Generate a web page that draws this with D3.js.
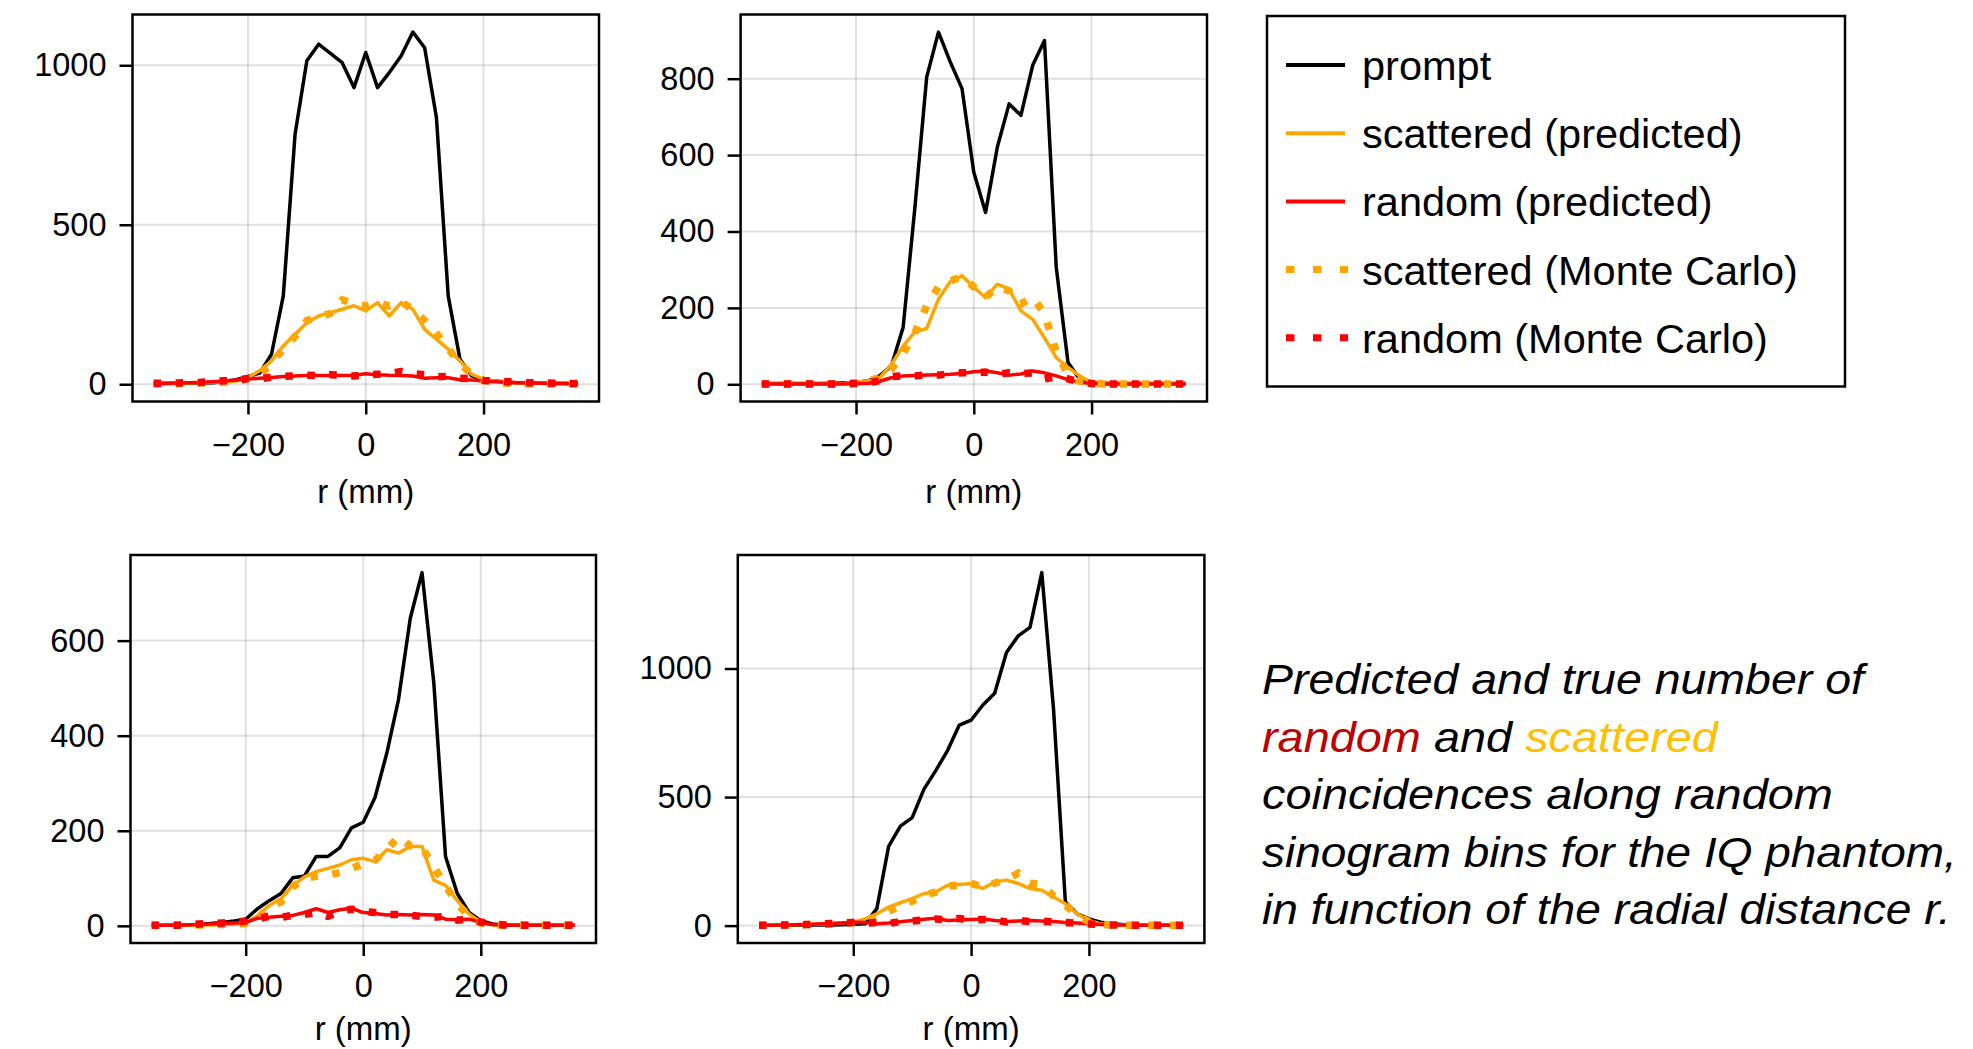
<!DOCTYPE html>
<html>
<head>
<meta charset="utf-8">
<script src="https://cdn.jsdelivr.net/npm/d3@7"></script>
<style>
  body { margin: 0; background: #fff; }
  text { font-family: "Liberation Sans", Arial, sans-serif; fill: #000; }
</style>
</head>
<body>
<svg id="fig" width="1973" height="1049"></svg>
<script>
// radial positions (mm), shared by every panel
const rValues = [-360,-340,-320,-300,-280,-260,-240,-220,-200,-180,-160,-140,-120,-100,-80,-60,-40,-20,0,
                 20,40,60,80,100,120,140,160,180,200,220,240,260,280,300,320,340,360];
const xTicks = [-200, 0, 200];

// top left
const promptA   = [2,2,3,3,4,5, 8,14,24,35,94,277, 784,1014,1066,1037,1008,930, 1040,930,977,1029,1104,1055, 836,277,78,26,13,10, 6,4,3,3,2,2,2];
const scatPredA = [2,3,3,4,5,6, 8,10,21,42,73,120, 157,193,214,225,235,246, 230,256,214,256,235,172, 141,110,73,31,16,10, 6,4,3,3,2,2,2];
const scatMCA   = [1,1,2,3,4,5, 7,9,18,30,65,110, 150,200,210,222,265,252, 245,256,245,258,235,200, 160,112,65,30,12,6, 3,2,1,1,1,1,1];
const randPredA = [2,3,4,5,6,8, 10,13,16,19,21,24, 26,27,27,27,27,28, 33,30,28,27,26,19, 20,20,14,13,10,8, 6,5,4,3,3,2,2];
const randMCA   = [3,3,4,5,6,8, 11,12,18,17,22,25, 26,28,27,30,28,26, 30,31,32,40,33,30, 23,25,19,18,12,10, 8,7,5,4,3,2,2];
const yTicksA = [0, 500, 1000];

// top right
const promptB   = [2,2,2,2,2,2, 3,4,5,9,22,48, 149,463,804,922,844,774, 555,450,621,734,704,835, 900,306,57,13,4,3, 2,2,2,2,2,2,2];
const scatPredB = [1,1,1,1,1,1, 2,3,5,9,17,52, 100,137,146,223,269,284, 254,227,262,249,192,170, 122,70,44,22,4,2, 1,1,1,1,1,1,1];
const scatMCB   = [1,1,1,1,1,1, 1,2,4,8,18,40, 80,135,205,255,270,282, 255,228,255,245,210,228, 185,85,25,8,3,1, 1,1,1,1,1,1,1];
const randPredB = [1,1,1,1,1,1, 1,1,2,2,8,17, 22,23,24,25,26,28, 33,35,30,24,27,35, 30,22,12,5,2,1, 1,1,1,1,1,1,1];
const randMCB   = [1,1,1,1,1,1, 1,1,2,3,10,20, 22,22,25,24,28,30, 30,32,26,30,28,30, 14,20,14,6,2,1, 1,1,1,1,1,1,1];
const yTicksB = [0, 200, 400, 600, 800];

// bottom left
const promptC   = [1,1,1,2,3,5, 7,10,14,36,53,68, 101,105,146,146,164,206, 218,270,363,476,647,743, 512,146,68,28,11,4, 2,1,1,1,1,1,1];
const scatPredC = [1,1,1,1,2,2, 3,4,7,21,43,57, 85,103,114,121,128,139, 142,135,160,153,167,167, 96,85,53,25,7,2, 1,1,1,1,1,1,1];
const scatMCC   = [1,1,1,1,2,2, 3,4,5,15,40,50, 82,100,104,107,112,121, 130,138,160,188,168,165, 124,85,46,20,6,2, 1,1,1,1,1,1,1];
const randPredC = [1,1,1,2,3,4, 5,6,7,16,18,20, 22,28,36,28,34,37, 28,26,23,24,23,24, 23,14,13,14,7,3, 1,1,1,1,1,1,1];
const randMCC   = [1,1,1,2,4,5, 6,7,10,15,20,18, 22,24,28,20,30,35, 30,28,24,24,22,20, 18,20,12,14,8,4, 2,1,1,1,1,1,1];
const yTicksC = [0, 200, 400, 600];

// bottom right
const promptD   = [1,1,1,1,2,2, 2,3,5,7,66,308, 387,420,531,603,681,780, 799,858,904,1062,1127,1160, 1373,839,92,46,26,13, 7,3,2,2,2,1,1];
const scatPredD = [2,2,2,3,4,5, 7,10,13,26,46,72, 89,105,125,131,157,160, 164,144,170,177,164,144, 138,111,85,46,20,7, 3,2,2,2,1,1,1];
const scatMCD   = [1,1,2,3,4,5, 6,8,12,20,35,55, 80,95,118,130,155,158, 165,150,165,178,205,165, 160,115,80,40,15,5, 2,1,1,1,1,1,1];
const randPredD = [1,1,2,3,4,6, 8,10,13,12,7,10, 15,20,25,29,20,22, 24,26,20,16,18,20, 18,16,12,10,7,4, 2,2,1,1,1,1,1];
const randMCD   = [1,1,2,3,4,6, 8,10,12,10,12,8, 16,18,22,26,22,28, 20,24,22,14,20,16, 18,14,12,9,6,4, 2,2,1,1,1,1,1];
const yTicksD = [0, 500, 1000];

const seriesNames = ["prompt", "scattered (predicted)", "random (predicted)",
                     "scattered (Monte Carlo)", "random (Monte Carlo)"];
const captionLines = [
  [["Predicted and true number of", "#000"]],
  [["random", "#C00000"], [" and ", "#000"], ["scattered", "#FFC000"]],
  [["coincidences along random", "#000"]],
  [["sinogram bins for the IQ phantom,", "#000"]],
  [["in function of the radial distance r.", "#000"]]
];

// styles for the five series (same order as seriesNames)
const styles = [
  { color: "#000000", width: 3.5, dash: null },
  { color: "#FFA500", width: 3.5, dash: null },
  { color: "#FF0000", width: 3.5, dash: null },
  { color: "#FFA500", width: 7.5, dash: "7.5 14.5" },
  { color: "#FF0000", width: 7.5, dash: "7.5 14.5" }
];

const panels = [
  { box: [132.5, 14.5, 599, 401.5], yTicks: yTicksA, series: [promptA, scatPredA, randPredA, scatMCA, randMCA] },
  { box: [740.6, 14.5, 1207, 401.5], yTicks: yTicksB, series: [promptB, scatPredB, randPredB, scatMCB, randMCB] },
  { box: [130.5, 555, 596, 943], yTicks: yTicksC, series: [promptC, scatPredC, randPredC, scatMCC, randMCC] },
  { box: [737.8, 555, 1204.4, 943], yTicks: yTicksD, series: [promptD, scatPredD, randPredD, scatMCD, randMCD] }
];

const svg = d3.select("#fig");
const fmt = v => (v < 0 ? "\u2212" + Math.abs(v) : String(v));

// x limits: data range plus 5% each side (like the original autolimits)
const rExt = d3.extent(rValues);
const rPad = (rExt[1] - rExt[0]) * 0.05;

panels.forEach(p => {
  const [x0, y0, x1, y1] = p.box;
  const all = p.series.flat();
  const yExt = d3.extent(all);
  const yPad = (yExt[1] - yExt[0]) * 0.05;

  const x = d3.scaleLinear().domain([rExt[0] - rPad, rExt[1] + rPad]).range([x0, x1]);
  const y = d3.scaleLinear().domain([yExt[0] - yPad, yExt[1] + yPad]).range([y1, y0]);

  const g = svg.append("g");

  // grid
  g.selectAll(".gx").data(xTicks).join("line")
    .attr("x1", d => x(d)).attr("x2", d => x(d))
    .attr("y1", y0).attr("y2", y1)
    .attr("stroke", "rgba(0,0,0,0.12)").attr("stroke-width", 2);
  g.selectAll(".gy").data(p.yTicks).join("line")
    .attr("x1", x0).attr("x2", x1)
    .attr("y1", d => y(d)).attr("y2", d => y(d))
    .attr("stroke", "rgba(0,0,0,0.12)").attr("stroke-width", 2);

  // curves
  const line = d3.line().x((d, i) => x(rValues[i])).y(d => y(d));
  p.series.forEach((vals, i) => {
    const s = styles[i];
    g.append("path")
      .attr("d", line(vals))
      .attr("fill", "none")
      .attr("stroke", s.color)
      .attr("stroke-width", s.width)
      .attr("stroke-linejoin", "round")
      .attr("stroke-dasharray", s.dash);
  });

  // frame
  g.append("rect")
    .attr("x", x0).attr("y", y0)
    .attr("width", x1 - x0).attr("height", y1 - y0)
    .attr("fill", "none").attr("stroke", "#000").attr("stroke-width", 2.5);

  // axes: ticks outside, left and bottom
  const xAxis = d3.axisBottom(x).tickValues(xTicks).tickFormat(fmt).tickSize(13).tickPadding(18);
  const yAxis = d3.axisLeft(y).tickValues(p.yTicks).tickFormat(fmt).tickSize(13).tickPadding(13);

  const gx = g.append("g").attr("transform", `translate(0,${y1})`).call(xAxis);
  const gy = g.append("g").attr("transform", `translate(${x0},0)`).call(yAxis);
  [gx, gy].forEach(a => {
    a.select(".domain").remove();
    a.selectAll(".tick line").attr("stroke", "#000").attr("stroke-width", 2.5);
    a.selectAll(".tick text").attr("font-size", 32.5).attr("font-family", '"Liberation Sans", Arial, sans-serif').attr("fill", "#000");
  });

  // axis label; the bottom row sits right at the page edge, keep it inside
  g.append("text")
    .attr("x", x(0)).attr("y", Math.min(y1 + 101.5, 1040))
    .attr("text-anchor", "middle")
    .attr("font-size", 33)
    .text("r (mm)");
});

// legend
const leg = svg.append("g");
leg.append("rect")
  .attr("x", 1267).attr("y", 16).attr("width", 578).attr("height", 370.5)
  .attr("fill", "#fff").attr("stroke", "#000").attr("stroke-width", 2.5);
seriesNames.forEach((name, i) => {
  const cy = 65 + 68.2 * i;
  const s = styles[i];
  leg.append("line")
    .attr("x1", 1286).attr("x2", s.dash ? 1348 : 1345)
    .attr("y1", cy).attr("y2", cy)
    .attr("stroke", s.color)
    .attr("stroke-width", s.dash ? 7 : 4)
    .attr("stroke-dasharray", s.dash ? "8.5 18.5" : null);
  leg.append("text")
    .attr("x", 1362).attr("y", cy + 15)
    .attr("font-size", 41.5)
    .text(name);
});

// caption, italic narrow text, each line stretched to the measured width
const capWidths = [602, 456, 571, 695, 689];
captionLines.forEach((parts, i) => {
  const t = svg.append("text")
    .attr("font-family", '"Liberation Sans Narrow", "Roboto", sans-serif')
    .attr("font-style", "italic")
    .attr("font-size", 43);
  parts.forEach(([str, col]) => t.append("tspan").attr("fill", col).style("white-space", "pre").text(str));
  t.attr("xml:space", "preserve");
  const w = t.node().getComputedTextLength();
  t.attr("transform", `translate(1262,${694 + 57.5 * i}) scale(${capWidths[i] / w},1)`);
});
</script>
</body>
</html>
